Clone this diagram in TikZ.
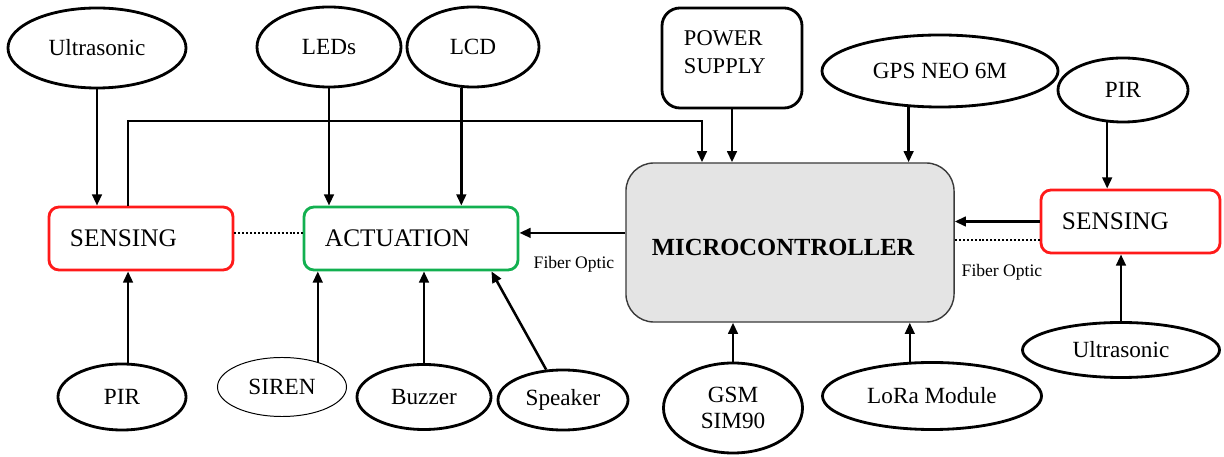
\documentclass[tikz,border=0pt]{standalone}
\usepackage{fontspec}
\setmainfont{Liberation Serif}
\usepackage{tikz}
\usetikzlibrary{arrows.meta,shapes.geometric}
\definecolor{ink}{HTML}{000000}
\definecolor{sRed}{HTML}{FF1A1A}
\definecolor{sGreen}{HTML}{12B050}
\definecolor{mcuFill}{HTML}{E4E4E4}
\definecolor{mcuLine}{HTML}{3A3A3A}
\tikzset{
  unit/.style={ellipse, draw=ink, line width=2pt, inner sep=0pt, align=center, font=\fontsize{16.5}{19}\selectfont},
  blk/.style={draw=ink, line width=2pt, rounded corners=0.25cm, align=left, inner xsep=0.525cm, minimum height=1.575cm, font=\fontsize{18}{21}\selectfont},
  lbl/.style={font=\fontsize{12.5}{14}\selectfont, inner sep=0pt},
}
\begin{document}
\begin{tikzpicture}[x=0.025cm, y=-0.025cm,
  link/.style={-{Triangle[length=2.8mm, width=2.4mm]}, ink, line width=1.8pt},
  fiber/.style={ink, line width=1.4pt, dash pattern=on 1.4pt off 1.4pt}]
\useasboundingbox (0,0) rectangle (1224,457);
% sensors, actuators and modules
\node[unit, minimum width=4.45cm, minimum height=2cm] (usL) at (97,48) {Ultrasonic};
\node[unit, minimum width=3.6cm, minimum height=2cm] (leds) at (329,47) {LEDs};
\node[unit, minimum width=3.3cm, minimum height=2cm] (lcd) at (473,47) {LCD};
\node[unit, minimum width=5.9cm, minimum height=1.8cm] (gps) at (940,71) {GPS NEO 6M};
\node[unit, minimum width=3.25cm, minimum height=1.6cm] (pirR) at (1123,90) {PIR};
\node[unit, minimum width=3.2cm, minimum height=1.65cm] (pirL) at (122,397) {PIR};
\node[unit, line width=0.7pt, minimum width=3.225cm, minimum height=1.475cm] (siren) at (282,387) {SIREN};
\node[unit, minimum width=3.35cm, minimum height=1.625cm] (buzzer) at (424,397) {Buzzer};
\node[unit, minimum width=3.25cm, minimum height=1.5cm] (speaker) at (563,400) {Speaker};
\node[unit, minimum width=3.475cm, minimum height=2.25cm] (gsm) at (733,408) {GSM\\SIM90};
\node[unit, minimum width=5.475cm, minimum height=1.675cm] (lora) at (932,396) {LoRa Module};
\node[unit, minimum width=4.925cm, minimum height=1.375cm] (usR) at (1121,350) {Ultrasonic};
% blocks
\node[blk, draw=sRed, text width=3.55cm] (sensL) at (141,238.5) {SENSING};
\node[blk, draw=sGreen, text width=4.3cm] (act) at (411,238.5) {ACTUATION};
\node[blk, draw=sRed, text width=3.425cm] (sensR) at (1130.5,221.5) {SENSING};
\node[blk, draw=mcuLine, fill=mcuFill, line width=1pt, rounded corners=0.7cm, inner xsep=0.65cm,
  text width=6.9cm, text height=18pt, minimum height=3.975cm, font=\fontsize{17.5}{21}\selectfont\bfseries] (mcu) at (790,242.5) {MICROCONTROLLER};
\node[blk, rounded corners=0.45cm, inner xsep=0.55cm, text width=2.4cm, text depth=28pt, minimum height=2.5cm,
  font=\fontsize{16}{20}\selectfont] (power) at (732,58) {POWER\\SUPPLY};
\node[lbl] (foL) at (574,264) {Fiber Optic};
\node[lbl] (foR) at (1002,272) {Fiber Optic};
% left sensing
\draw[link] (usL.south) -- (usL.south |- sensL.north);
\draw[link] (pirL.80) -- (pirL.80 |- sensL.south);
\coordinate (busA) at (128,121); \coordinate (busB) at (702,121);
\draw[link] (sensL.north -| busA) -- (busA) -- (busB) -- (busB |- mcu.north);
\draw[fiber] ([yshift=0.14cm]sensL.east) -- ([yshift=0.14cm]act.west);
% actuation
\draw[link] (leds.south) -- (leds.south |- act.north);
\draw[link] (lcd.254) -- (lcd.254 |- act.north);
\draw[link] (siren.35) -- (siren.35 |- act.south);
\draw[link] (buzzer.north) -- (buzzer.north |- act.south);
\coordinate (spkEnd) at ([xshift=-0.7cm]act.south east);
\draw[link] (speaker.119) -- (spkEnd);
\coordinate (actIn) at ([yshift=0.14cm]act.east);
\draw[link] (actIn -| mcu.west) -- (actIn);
% microcontroller
\draw[link] (power.south) -- (power.south |- mcu.north);
\draw[link] (gps.229) -- (gps.229 |- mcu.north);
\draw[link] (gsm.north) -- (gsm.north |- mcu.south);
\draw[link] (lora.123) -- (lora.123 |- mcu.south);
% right sensing
\draw[link] (pirR.244) -- (pirR.244 |- sensR.north);
\draw[link] (usR.north) -- (usR.north |- sensR.south);
\draw[link] (sensR.west) -- (sensR.west -| mcu.east);
\coordinate (fibR) at ([yshift=-0.46cm]sensR.west);
\draw[fiber] (fibR) -- (fibR -| mcu.east);
\end{tikzpicture}
\end{document}
